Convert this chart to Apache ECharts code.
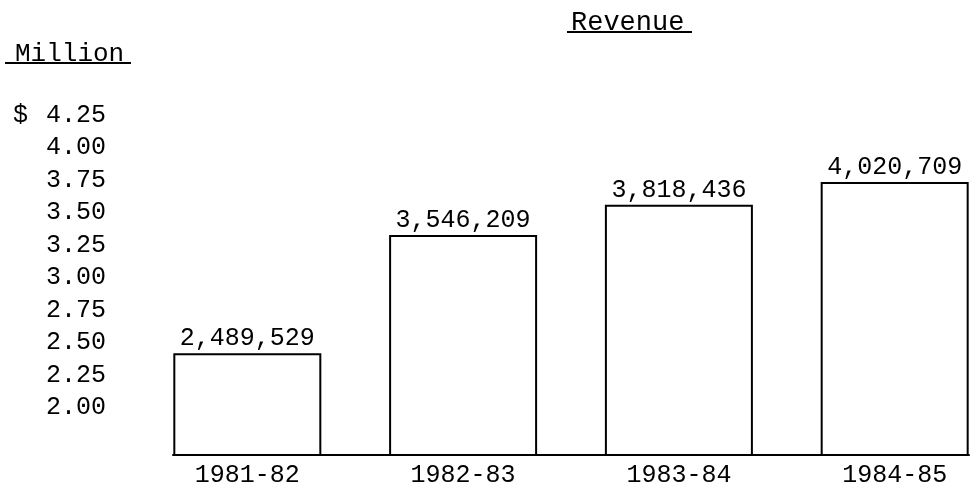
<!DOCTYPE html>
<html>
<head>
<meta charset="utf-8">
<script src="https://cdn.jsdelivr.net/npm/echarts@6/dist/echarts.min.js"></script>
<style>html,body{margin:0;padding:0;background:#fff}#c{width:976px;height:490px}</style>
</head>
<body>
<div id="c"></div>
<script>
const categories = ['1981-82', '1982-83', '1983-84', '1984-85'];
const revenue = [2489529, 3546209, 3818436, 4020709];
const yTickValues = [2.00, 2.25, 2.50, 2.75, 3.00, 3.25, 3.50, 3.75, 4.00, 4.25];
const titleText = 'Revenue';
const unitText = 'Million';

const FONT = '"Liberation Mono", "DejaVu Sans Mono", monospace';
const chart = echarts.init(document.getElementById('c'));

const barData = revenue.map((v, i) => [i, v / 1e6]);
const lbl = { fontFamily: FONT, fontSize: 25, color: '#000' };

chart.setOption({
  backgroundColor: '#fff',
  animation: false,
  title: [
    { text: titleText, left: 566, top: 4, textStyle: { fontFamily: FONT, fontSize: 27, fontWeight: 'normal', color: '#000' } },
    { text: unitText, left: 10, top: 36, textStyle: { fontFamily: FONT, fontSize: 26, fontWeight: 'normal', color: '#000' } }
  ],
  graphic: [
    { type: 'line', shape: { x1: 567, y1: 32, x2: 692, y2: 32 }, style: { stroke: '#000', lineWidth: 2 } },
    { type: 'line', shape: { x1: 5, y1: 63, x2: 131, y2: 63 }, style: { stroke: '#000', lineWidth: 2 } }
  ],
  grid: { left: 173, right: 7, top: 115, bottom: 35, containLabel: false },
  xAxis: {
    type: 'value',
    min: -0.3444,
    max: 3.3444,
    splitLine: { show: false },
    axisTick: { show: false },
    axisLine: { show: true, lineStyle: { color: '#000', width: 2 } },
    axisLabel: Object.assign({
      customValues: categories.map((c, i) => i),
      formatter: (v) => categories[Math.round(v)],
      margin: 8
    }, lbl)
  },
  yAxis: [
    {
      type: 'value',
      min: 1.6346,
      max: 4.25,
      axisLine: { show: false },
      axisTick: { show: false },
      splitLine: { show: false },
      axisLabel: Object.assign({
        customValues: yTickValues,
        formatter: (v) => (Math.abs(v - 4.25) < 1e-6 ? '{d|$}' : '') + '{n|' + v.toFixed(2) + '}',
        align: 'right',
        margin: 67,
        rich: {
          d: { width: 33, align: 'left', fontFamily: FONT, fontSize: 25, color: '#000' },
          n: { fontFamily: FONT, fontSize: 25, color: '#000' }
        }
      }, lbl)
    },
    {
      type: 'value',
      show: false,
      min: 1.5775,
      max: 4.6214,
      splitLine: { show: false }
    }
  ],
  series: [{
    type: 'bar',
    yAxisIndex: 1,
    barWidth: 148,
    data: barData,
    itemStyle: { color: '#fff', borderColor: '#000', borderWidth: 2 },
    label: Object.assign({
      show: true,
      position: 'top',
      distance: 2,
      formatter: (p) => revenue[p.dataIndex].toLocaleString('en-US')
    }, lbl)
  }]
});
</script>
</body>
</html>
